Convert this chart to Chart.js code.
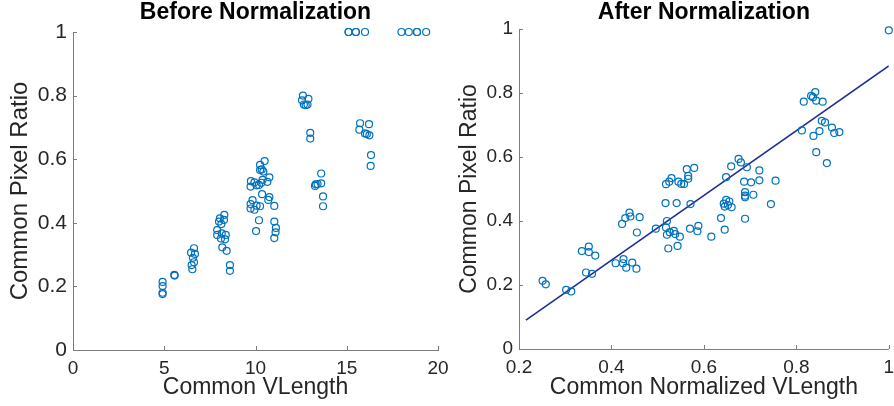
<!DOCTYPE html>
<html>
<head>
<meta charset="utf-8">
<script src="https://cdn.jsdelivr.net/npm/chart.js@4.4.1/dist/chart.umd.min.js"></script>
<style>
  html, body { margin: 0; padding: 0; background: #fff; }
  #wrap { position: relative; width: 894px; height: 406px; overflow: hidden; }
  #left { position: absolute; left: 0; top: 0; }
  #right { position: absolute; left: 455px; top: 0; }
</style>
</head>
<body>
<div id="wrap">
  <canvas id="left" width="455" height="406"></canvas>
  <canvas id="right" width="439" height="406"></canvas>
</div>
<script>
// Before normalization (VLength vs pixel ratio)
const beforeX = [15.1, 15.1, 15.5, 15.5, 16.0, 18.0, 18.4, 18.85, 18.85, 19.35,
  12.6, 12.55, 12.9, 12.65, 12.85, 12.75, 13.0, 13.0,
  15.73, 15.69, 16.22, 16.0, 16.1, 16.24, 16.33, 16.31,
  13.6, 13.3, 13.4, 13.6, 13.26, 13.7, 13.7,
  9.75, 9.94, 9.73, 10.06, 10.19, 10.25, 10.34, 10.5, 10.25, 10.43, 10.39, 10.32, 10.76, 10.65,
  10.36, 10.76, 10.7, 9.84, 9.73, 9.73, 9.94, 10.06, 10.25, 11.03, 10.19, 10.03, 11.03, 11.12, 11.1, 11.03,
  8.29, 8.05, 8.13, 8.0, 7.9, 7.9, 8.15, 8.11, 8.37, 8.33, 8.18, 8.42, 8.6, 8.6, 8.27,
  6.63, 6.47, 6.68, 6.57, 6.63, 6.5, 6.54,
  5.55, 5.57,
  4.91, 4.91, 4.91, 4.91];
const beforeY = [1, 1, 1, 1, 1, 1, 1, 1, 1, 1,
  0.80, 0.785, 0.79, 0.772, 0.772, 0.77, 0.683, 0.665,
  0.713, 0.693, 0.71, 0.681, 0.679, 0.675, 0.613, 0.579,
  0.555, 0.521, 0.522, 0.524, 0.516, 0.483, 0.452,
  0.531, 0.527, 0.514, 0.518, 0.519, 0.582, 0.568, 0.594, 0.566, 0.561, 0.535, 0.526, 0.543, 0.529,
  0.49, 0.481, 0.472, 0.471, 0.459, 0.445, 0.441, 0.454, 0.452, 0.453, 0.408, 0.374, 0.404, 0.384, 0.370, 0.352,
  0.425, 0.414, 0.396, 0.404, 0.377, 0.362, 0.367, 0.351, 0.362, 0.348, 0.323, 0.312, 0.267, 0.249, 0.409,
  0.32, 0.306, 0.302, 0.29, 0.276, 0.267, 0.254,
  0.236, 0.234,
  0.214, 0.201, 0.18, 0.176];

// After normalization
const afterX = [0.251, 0.258, 0.302, 0.313, 0.336, 0.351, 0.351, 0.365, 0.345, 0.358,
  0.409, 0.426, 0.425, 0.432, 0.445, 0.454, 0.423, 0.430, 0.439, 0.441, 0.461, 0.455, 0.496,
  0.518, 0.525, 0.530, 0.545, 0.551, 0.557, 0.563, 0.566, 0.566, 0.579,
  0.517, 0.541, 0.571, 0.520, 0.518, 0.520, 0.526, 0.535, 0.538, 0.548, 0.523, 0.543,
  0.570, 0.588, 0.586, 0.616, 0.637, 0.645,
  0.648, 0.659, 0.675, 0.680, 0.693, 0.687, 0.702, 0.720, 0.720, 0.755,
  0.643, 0.648, 0.652, 0.655, 0.645, 0.660, 0.689, 0.689, 0.689, 0.707, 0.689, 0.745,
  0.816, 0.812, 0.832, 0.841, 0.836, 0.843, 0.857, 0.855, 0.862, 0.850, 0.837, 0.877, 0.882, 0.893, 0.843, 0.866,
  1.0];
const afterY = [0.213, 0.202, 0.185, 0.180, 0.306, 0.320, 0.303, 0.292, 0.239, 0.235,
  0.268, 0.281, 0.268, 0.254, 0.270, 0.251, 0.391, 0.409, 0.426, 0.414, 0.412, 0.364, 0.376,
  0.515, 0.523, 0.534, 0.523, 0.516, 0.516, 0.562, 0.541, 0.532, 0.566,
  0.456, 0.456, 0.453, 0.400, 0.380, 0.357, 0.365, 0.369, 0.359, 0.351, 0.314, 0.322,
  0.376, 0.385, 0.368, 0.351, 0.409, 0.373,
  0.537, 0.571, 0.594, 0.583, 0.568, 0.523, 0.521, 0.558, 0.527, 0.526,
  0.454, 0.466, 0.450, 0.461, 0.445, 0.443, 0.490, 0.479, 0.474, 0.482, 0.407, 0.453,
  0.773, 0.683, 0.791, 0.803, 0.787, 0.776, 0.773, 0.713, 0.708, 0.681, 0.666, 0.692, 0.675, 0.678, 0.615, 0.581,
  0.996];

// Fitted line (end points)
const fitX = [0.215, 1.0];
const fitY = [0.09, 0.885];

// Tick values
const beforeXTicks = [0, 5, 10, 15, 20];
const afterXTicks = [0.2, 0.4, 0.6, 0.8, 1];
const yTicks = [0, 0.2, 0.4, 0.6, 0.8, 1];

const FONT = '"Liberation Sans", Arial, Helvetica, sans-serif';
const AXIS_COLOR = '#7c7c7c';
const TEXT_COLOR = '#262626';
const MARKER = '#0072BD';

const toPoints = (xs, ys) => xs.map((x, i) => ({ x: x, y: ys[i] }));
const setTicks = (vals) => (scale) => { scale.ticks = vals.map(v => ({ value: v })); };
// matlab prints 1 not 1.0
const fmt = (v) => String(Math.round(v * 10) / 10);

// MATLAB style ticks pointing into the axes
const inwardTicks = {
  id: 'inwardTicks',
  afterDatasetsDraw(chart) {
    const { ctx, scales: { x, y } } = chart;
    ctx.save();
    ctx.strokeStyle = AXIS_COLOR;
    ctx.lineWidth = 1;
    ctx.beginPath();
    x.ticks.forEach(t => {
      const px = Math.round(x.getPixelForValue(t.value)) + 0.5;
      ctx.moveTo(px, y.bottom);
      ctx.lineTo(px, y.bottom - 4);
    });
    y.ticks.forEach(t => {
      const py = Math.round(y.getPixelForValue(t.value)) + 0.5;
      ctx.moveTo(x.left, py);
      ctx.lineTo(x.left + 4, py);
    });
    ctx.stroke();
    ctx.restore();
  }
};

function makeChart(id, cfg) {
  const datasets = [{
    data: toPoints(cfg.xs, cfg.ys),
    pointStyle: 'circle',
    pointRadius: 3.5,
    pointBorderWidth: 1.2,
    pointBorderColor: MARKER,
    pointBackgroundColor: 'rgba(0,0,0,0)',
    showLine: false,
    clip: false
  }];
  if (cfg.fit) {
    datasets.push({
      data: toPoints(cfg.fit[0], cfg.fit[1]),
      showLine: true,
      borderColor: '#1f2d96',
      borderWidth: 1.6,
      pointRadius: 0
    });
  }
  return new Chart(document.getElementById(id), {
    type: 'scatter',
    data: { datasets },
    plugins: [inwardTicks],
    options: {
      responsive: false,
      animation: false,
      events: [],
      layout: { padding: { left: 0, right: cfg.padRight, top: 0, bottom: 0 } },
      plugins: {
        legend: { display: false },
        tooltip: { enabled: false },
        title: {
          display: true,
          text: cfg.title,
          fullSize: false,
          color: '#000',
          font: { family: FONT, size: 23, weight: 'bold', lineHeight: 1 },
          padding: { top: 1, bottom: cfg.titleGap }
        }
      },
      scales: {
        x: {
          type: 'linear',
          min: cfg.xMin,
          max: cfg.xMax,
          afterBuildTicks: setTicks(cfg.xTicks),
          afterFit: (s) => { s.height = cfg.xAxisH; s.paddingLeft = 0; s.paddingRight = 0; },
          grid: { display: false, drawTicks: false },
          border: { display: true, color: AXIS_COLOR, width: 1 },
          ticks: { color: TEXT_COLOR, padding: 7, maxRotation: 0, callback: fmt, font: { family: FONT, size: 19 } },
          title: {
            display: true,
            text: cfg.xTitle,
            color: TEXT_COLOR,
            font: { family: FONT, size: 23, lineHeight: 1 },
            padding: { top: 0, bottom: 6.5 }
          }
        },
        y: {
          type: 'linear',
          min: 0,
          max: 1,
          afterBuildTicks: setTicks(yTicks),
          afterFit: (s) => { s.width = cfg.yAxisW; },
          grid: { display: false, drawTicks: false },
          border: { display: true, color: AXIS_COLOR, width: 1 },
          ticks: { color: TEXT_COLOR, padding: 6, callback: fmt, font: { family: FONT, size: cfg.yTickSize } },
          title: {
            display: true,
            text: 'Common Pixel Ratio',
            color: TEXT_COLOR,
            font: { family: FONT, size: cfg.yTitleSize, lineHeight: 1 },
            padding: { top: cfg.yTitlePad, bottom: 0 }
          }
        }
      }
    }
  });
}

makeChart('left', {
  title: 'Before Normalization',
  xs: beforeX, ys: beforeY,
  xMin: 0, xMax: 20, xTicks: beforeXTicks,
  xTitle: 'Common VLength',
  padRight: 17, titleGap: 8, xAxisH: 56, yAxisW: 73,
  yTickSize: 21, yTitleSize: 24, yTitlePad: 8.5
});

makeChart('right', {
  title: 'After Normalization',
  xs: afterX, ys: afterY, fit: [fitX, fitY],
  xMin: 0.2, xMax: 1, xTicks: afterXTicks,
  xTitle: 'Common Normalized VLength',
  padRight: 1, titleGap: 5, xAxisH: 57, yAxisW: 64,
  yTickSize: 19, yTitleSize: 23, yTitlePad: 3.5
});
</script>
</body>
</html>
